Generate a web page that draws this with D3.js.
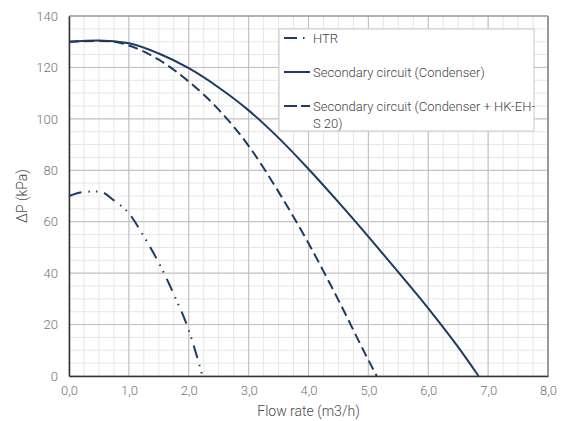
<!DOCTYPE html>
<html>
<head>
<meta charset="utf-8">
<script src="https://cdn.jsdelivr.net/npm/d3@7"></script>
<style>
  body { margin: 0; background: #fff; }
  text { font-family: Roboto, "Noto Sans", sans-serif; font-weight: 300; }
</style>
</head>
<body>
<div id="chart"></div>
<script>
// values
const htr = [[0, 70], [0.25, 71.6], [0.5, 71.8], [0.75, 68.3], [1.0, 63.3], [1.25, 54.3], [1.5, 44], [1.75, 31.8], [2.0, 17.8], [2.23, 0]];
const condenser = [[0, 130], [0.5, 130.5], [1.0, 129.4], [1.5, 125.4], [2.0, 119.7], [2.5, 112.2], [3.0, 103.3], [3.5, 92.6], [4.0, 80.5], [4.5, 67.6], [5.0, 54.2], [5.5, 40.4], [6.0, 26.3], [6.5, 11.2], [6.84, 0]];
const condenserHK = [[0, 130], [0.5, 130.3], [0.75, 130], [1.0, 128.5], [1.5, 123], [2.0, 114.5], [2.5, 103.6], [3.0, 89.5], [3.5, 71.6], [4.0, 51.6], [4.5, 29.5], [5.0, 6.2], [5.14, 0]];

const xTicks = [0, 1, 2, 3, 4, 5, 6, 7, 8];
const yTicks = [0, 20, 40, 60, 80, 100, 120, 140];

const series = [
    { name: ["HTR"], data: htr, dash: "13,7,1.5,6,1.5,7", legendDash: "13,6,1.5,20" },
    { name: ["Secondary circuit (Condenser)"], data: condenser, dash: null, legendDash: null },
    { name: ["Secondary circuit (Condenser + HK-EH-", "S 20)"], data: condenserHK, dash: "10,5", legendDash: "13,4" }
];

const width = 571, height = 421;
const margin = { top: 16, right: 23, bottom: 45, left: 69 };
const lineColor = "#1c3a63";

const svg = d3.select("#chart").append("svg")
    .attr("width", width)
    .attr("height", height);

const x = d3.scaleLinear().domain([0, 8]).range([margin.left, width - margin.right]);
const y = d3.scaleLinear().domain([0, 140]).range([height - margin.bottom, margin.top]);

// minor grid
const grid = svg.append("g");
grid.selectAll(".minor-x")
    .data(d3.range(0, 8.01, 0.25))
    .enter().append("line")
    .attr("x1", d => x(d)).attr("x2", d => x(d))
    .attr("y1", y(0)).attr("y2", y(140))
    .attr("stroke", "#e6e6e6").attr("stroke-width", 1);
grid.selectAll(".minor-y")
    .data(d3.range(0, 140.1, 5))
    .enter().append("line")
    .attr("x1", x(0)).attr("x2", x(8))
    .attr("y1", d => y(d)).attr("y2", d => y(d))
    .attr("stroke", "#e6e6e6").attr("stroke-width", 1);

// major grid
grid.selectAll(".major-x")
    .data(xTicks)
    .enter().append("line")
    .attr("x1", d => x(d)).attr("x2", d => x(d))
    .attr("y1", y(0)).attr("y2", y(140))
    .attr("stroke", "#bdbdbd").attr("stroke-width", 1);
grid.selectAll(".major-y")
    .data(yTicks)
    .enter().append("line")
    .attr("x1", x(0)).attr("x2", x(8))
    .attr("y1", d => y(d)).attr("y2", d => y(d))
    .attr("stroke", "#bdbdbd").attr("stroke-width", 1);

// frame: top/right gray, left/bottom dark
svg.append("line").attr("x1", x(0)).attr("x2", x(8)).attr("y1", y(140)).attr("y2", y(140))
    .attr("stroke", "#8a8a8a").attr("stroke-width", 1);
svg.append("line").attr("x1", x(8)).attr("x2", x(8)).attr("y1", y(0)).attr("y2", y(140))
    .attr("stroke", "#999").attr("stroke-width", 2);

// axes
const xAxis = svg.append("g")
    .attr("transform", `translate(0,${y(0)})`)
    .call(d3.axisBottom(x).tickValues(xTicks).tickSize(0).tickPadding(10)
        .tickFormat(d => d3.format(".1f")(d).replace(".", ",")));
const yAxis = svg.append("g")
    .attr("transform", `translate(${x(0)},0)`)
    .call(d3.axisLeft(y).tickValues(yTicks).tickSize(0).tickPadding(11));

[xAxis, yAxis].forEach(a => {
    a.select(".domain").attr("stroke", "#333").attr("stroke-width", 1.5);
    a.selectAll("text")
        .attr("fill", "#737373")
        .attr("font-size", "13px")
        .style("font-family", "Roboto, 'Noto Sans', sans-serif")
        .style("font-weight", 300);
});

// curves
const line = d3.line()
    .x(d => x(d[0]))
    .y(d => y(d[1]))
    .curve(d3.curveMonotoneX);

svg.append("g").selectAll("path")
    .data(series)
    .enter().append("path")
    .attr("d", d => line(d.data))
    .attr("fill", "none")
    .attr("stroke", lineColor)
    .attr("stroke-width", 2)
    .attr("stroke-dasharray", d => d.dash);

// axis titles
svg.append("text")
    .attr("x", (x(0) + x(8)) / 2)
    .attr("y", 416)
    .attr("text-anchor", "middle")
    .attr("font-size", "14px")
    .attr("fill", "#4a4a4a")
    .text("Flow rate (m3/h)");

svg.append("text")
    .attr("transform", `translate(27,${(y(0) + y(140)) / 2}) rotate(-90)`)
    .attr("text-anchor", "middle")
    .attr("font-size", "14px")
    .attr("fill", "#4a4a4a")
    .text("ΔP (kPa)");

// legend
const legend = svg.append("g").attr("transform", "translate(279,29)");
legend.append("rect")
    .attr("width", 255).attr("height", 102)
    .attr("fill", "#fff")
    .attr("stroke", "#c8c8c8").attr("stroke-width", 1);

const rowY = [9, 43, 77];
const items = legend.selectAll(".item")
    .data(series)
    .enter().append("g")
    .attr("transform", (d, i) => `translate(0,${rowY[i]})`);

items.append("line")
    .attr("x1", 5).attr("x2", 31)
    .attr("y1", 0).attr("y2", 0)
    .attr("stroke", lineColor)
    .attr("stroke-width", 2)
    .attr("stroke-dasharray", d => d.legendDash);

items.append("text")
    .attr("x", 34)
    .attr("y", 5)
    .attr("font-size", "13px")
    .attr("fill", "#444")
    .selectAll("tspan")
    .data(d => d.name)
    .enter().append("tspan")
    .attr("x", 34)
    .attr("dy", (d, i) => i === 0 ? 0 : 17)
    .text(d => d);
</script>
</body>
</html>
